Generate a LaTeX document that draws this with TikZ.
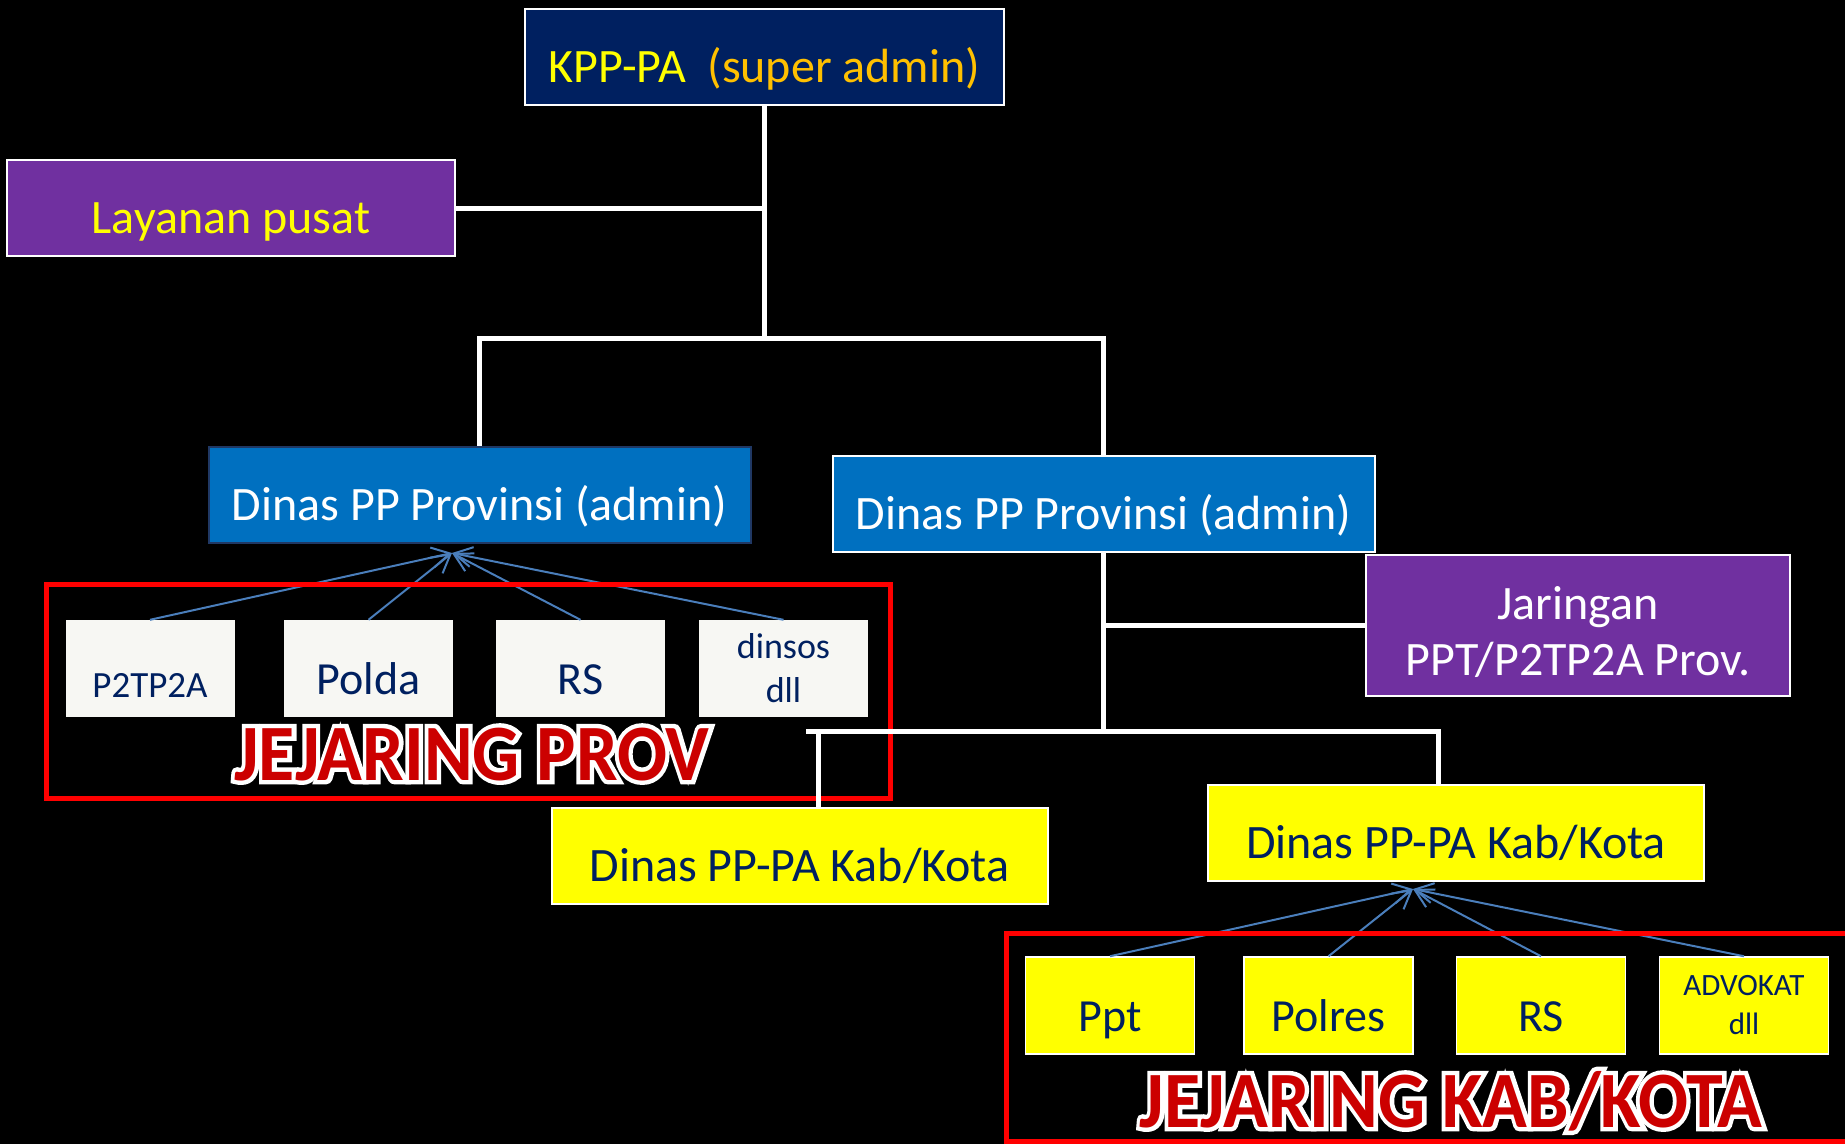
\documentclass[tikz,border=0pt]{standalone}
\usepackage{fontspec}
\setmainfont{Carlito}
\newfontfamily\haloface{Carlito}[FakeBold=11]
\usetikzlibrary{arrows.meta}
\definecolor{navyK}{HTML}{002060}
\definecolor{navyB}{HTML}{203864}
\definecolor{purpleP}{HTML}{7030A0}
\definecolor{blueB}{HTML}{0070C0}
\definecolor{yellowY}{HTML}{FFFF00}
\definecolor{goldG}{HTML}{FFC000}
\definecolor{offwhite}{HTML}{F7F7F3}
\definecolor{linkblue}{HTML}{4A7EBB}
\definecolor{bannerred}{HTML}{CC0000}
% red letters with a white rim
\newcommand{\haloText}[1]{\scalebox{1}[1.08]{\rlap{\color{white}\haloface #1}#1}}

\begin{document}
\begin{tikzpicture}[x=1pt, y=-1pt,
    block/.style ={rectangle, draw=white, line width=2pt, inner sep=0pt,
      align=center, font=\fontsize{48}{56}\selectfont},
    oneline/.style ={text height=56pt, text depth=5pt},
    block_top/.style ={block, oneline, fill=navyK, text=yellowY,
      minimum width=479pt, minimum height=96pt},
    block_purple/.style ={block, fill=purpleP, minimum width=448pt, minimum height=96pt},
    block_blue/.style ={block, oneline, fill=blueB, text=white,
      minimum width=542pt, minimum height=96pt},
    block_kab/.style ={block, oneline, fill=yellowY, text=navyK,
      minimum width=496pt, minimum height=96pt},
    block_small/.style ={rectangle, inner sep=0pt, align=center, text=navyK,
      minimum width=169pt, minimum height=97pt, font=\fontsize{46}{56}\selectfont},
    block_white/.style ={block_small, fill=offwhite},
    block_yellow/.style ={block_small, fill=yellowY, draw=white, line width=1.5pt},
    line/.style ={draw=white, line width=5pt},
    link/.style ={draw=linkblue, line width=2pt, -{Straight Barb[length=18pt,width=20pt]}},
    frame/.style ={draw=red, line width=5pt},
    banner/.style ={anchor=base, text=bannerred,
      font=\fontsize{74}{80}\selectfont\bfseries}]

    % background and page size
    \path [use as bounding box, fill=black] (0,0) rectangle (1845,1144);

    % Place nodes
    \node [block_top] (kpp) at (764.5,57) {KPP-PA\ \ \textcolor{goldG}{(super admin)}};
    \node [block_purple, text=yellowY, oneline] (layanan) at (231,208) {Layanan pusat};
    \node [block_blue, draw=navyB] (dinasA) at (479.5,494.5) {Dinas PP Provinsi (admin)};
    \node [block_blue] (dinasB) at (1103.5,504) {Dinas PP Provinsi (admin)};
    \node [block_purple, text=white, minimum width=424pt, minimum height=141pt]
      (jaringan) at (1578,625.5) {\rule{0pt}{46pt}Jaringan\\PPT/P2TP2A Prov.};
    \node [block_kab] (kabA) at (799.5,856) {Dinas PP-PA Kab/Kota};
    \node [block_kab] (kabB) at (1456,832.5) {Dinas PP-PA Kab/Kota};

    % jejaring prov
    \node [block_white, text height=60pt, text depth=2pt,
      font=\fontsize{37}{44}\selectfont] (p2tp2a) at (150,668.5) {P2TP2A};
    \node [block_white, oneline] (polda) at (368.5,668.5) {Polda};
    \node [block_white, oneline] (rsA) at (580.5,668.5) {RS};
    \node [block_white, font=\fontsize{36}{44}\selectfont] (dinsos) at (783.5,668.5) {dinsos\\dll};

    % jejaring kab/kota
    \node [block_yellow, oneline] (ppt) at (1110,1005.5) {Ppt};
    \node [block_yellow, oneline] (polres) at (1328.5,1005.5) {Polres};
    \node [block_yellow, oneline] (rsB) at (1541,1005.5) {RS};
    \node [block_yellow, font=\fontsize{31}{39}\selectfont] (advokat) at (1744,1005.5) {ADVOKAT\\dll};

    \coordinate (provJ) at (766,338);
    \coordinate (kabEnd) at (806,731);
    \coordinate (kabL) at (818,731);
    \coordinate (kabR) at (1438,731);
    \coordinate (provTip) at (452,553);
    \coordinate (kabTip) at (1413,889);

    % arrows into the admin boxes
    \foreach \n in {p2tp2a, polda, rsA, dinsos}
      \path [link] (\n.north) -- (provTip);
    \foreach \n in {ppt, polres, rsB, advokat}
      \path [link] (\n.north) -- (kabTip);

    % red frames
    \draw [frame] (46,584) rectangle (890,798);
    \draw [frame] (1006,933) rectangle (1870,1141);

    % white connectors
    \path [line] (kpp) -- (kpp |- provJ);
    \path [line] (layanan) -- (layanan -| kpp);
    \path [line] (dinasA) -- (dinasA |- provJ) -- (dinasB |- provJ) -- (dinasB);
    \path [line] (dinasB) -- (dinasB |- kabL);
    \path [line] (jaringan) -- (jaringan -| dinasB);
    \path [line] (kabEnd) -- (kabR) -- (kabB.north -| kabR);
    \path [line] (kabL) -- (kabA.north -| kabL);

    % labels of the frames
    \node [banner] (jejProv) at (472,780) {\haloText{JEJARING PROV}};
    \node [banner] (jejKab) at (1451,1127) {\haloText{JEJARING KAB/KOTA}};

\end{tikzpicture}
\end{document}
